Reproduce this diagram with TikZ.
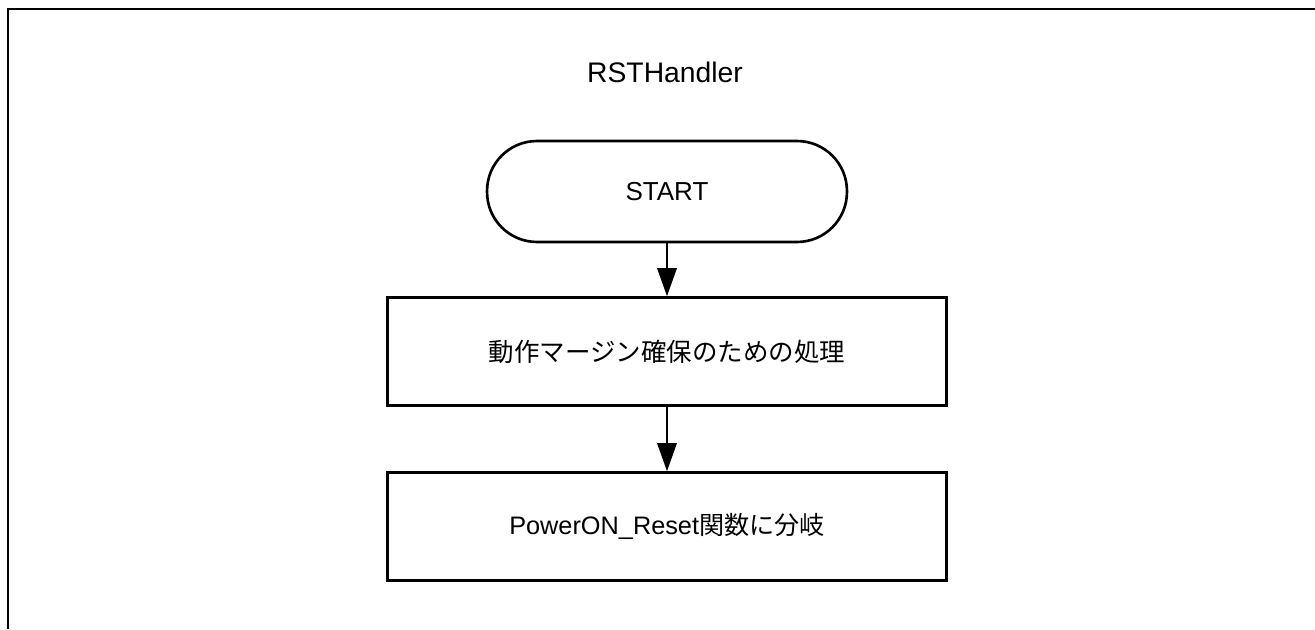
\documentclass[tikz,border=0pt]{standalone}
\usepackage{fontspec}
\setmainfont{Liberation Sans}
\newfontfamily\jpfont{Noto Sans CJK JP}
\usetikzlibrary{arrows.meta}

\tikzset{
    terminal/.style={draw,line width=1.5pt,rounded corners=1cm,
        minimum width=7.2cm,minimum height=2.02cm,font=\fontsize{14.8}{17}\selectfont},
    procbox/.style={draw,line width=1.7pt,minimum width=11.2cm,minimum height=2.15cm,
        font=\fontsize{14.4}{17}\selectfont},
    flow/.style={line width=1.3pt,-{Triangle[length=16pt,width=11pt]}}
}

\begin{document}
\begin{tikzpicture}[x=0.02cm,y=-0.02cm]
            \useasboundingbox (0,0) rectangle (1315,629);
            % frame
            \draw[line width=1.7pt] (1315,9) -- (8,9) -- (8,629);
            \node[font=\fontsize{16.1}{19}\selectfont] (title) at (665,72) {RSTHandler};
            \node[terminal] (start) at (667,191.5) {START};
            \node[procbox] (margin) at (667,351.5) {\jpfont\fontsize{14.5}{17}\selectfont 動作マージン確保のための処理};
            \node[procbox] (branch) at (667,526.5) {PowerON\_Reset{\jpfont\fontsize{14.3}{17}\selectfont 関数に分岐}};
            \draw[flow] (start) -- (margin);
            \draw[flow] (margin) -- (branch);
        \end{tikzpicture}
\end{document}
